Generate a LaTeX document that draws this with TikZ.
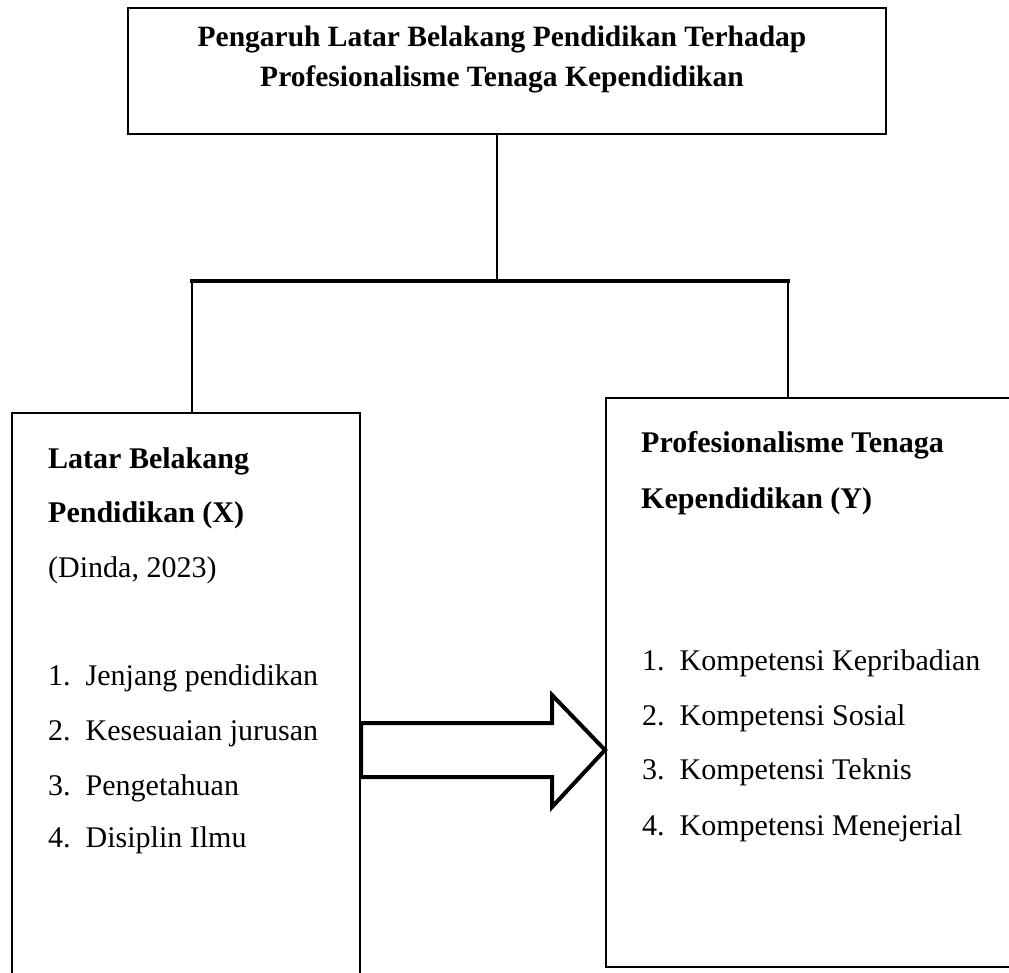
\documentclass[tikz,border=0pt]{standalone}
\usepackage{fontspec}
\setmainfont{Liberation Serif}
\begin{document}
\begin{tikzpicture}[x=1pt,y=-1pt,
  boxstyle/.style={draw=black, line width=2pt, fill=none, inner sep=0pt, anchor=north west},
  conn/.style={line width=2pt},
  busline/.style={line width=4pt},
  bigarrow/.style={draw=black, line width=4pt, line join=miter, fill=white},
  boldtxt/.style={font=\fontsize{30}{36}\selectfont\bfseries, inner sep=0pt},
  titletxt/.style={font=\fontsize{29.5}{36}\selectfont\bfseries, inner sep=0pt, anchor=base},
  plaintxt/.style={font=\fontsize{30}{36}\selectfont, inner sep=0pt, anchor=base west}]
\useasboundingbox (0,0) rectangle (1009,973);
\fill[white] (0,0) rectangle (1009,973);
% boxes
\node[boxstyle, minimum width=758pt, minimum height=126pt] (top) at (127,7) {};
\node[boxstyle, minimum width=348pt, minimum height=600pt] (left) at (11,412) {};
\node[boxstyle, minimum width=430pt, minimum height=569pt] (right) at (605,397) {};
% title
\node[titletxt] (t1) at (502,47) {Pengaruh Latar Belakang Pendidikan Terhadap};
\node[titletxt] (t2) at (502,87) {Profesionalisme Tenaga Kependidikan};
% connectors
\coordinate (jm) at (497,281);
\coordinate (jl) at (192,281);
\coordinate (jr) at (788,281);
\draw[conn] (top.south -| jm) -- (jm);
\draw[conn] (jl) -- (left.north -| jl);
\draw[conn] (jr) -- (right.north -| jr);
\draw[busline, line cap=rect] (jl) -- (jr);
% left texts
\node[boldtxt, anchor=base west] (lx1) at (48,468) {Latar Belakang};
\node[boldtxt, anchor=base west] (lx2) at (48,522) {Pendidikan (X)};
\node[plaintxt] (lx3) at (48,577) {(Dinda, 2023)};
\node[plaintxt] (la) at (48,685) {1.\ \ Jenjang pendidikan};
\node[plaintxt] (lb) at (48,740) {2.\ \ Kesesuaian jurusan};
\node[plaintxt] (lc) at (48,795) {3.\ \ Pengetahuan};
\node[plaintxt] (ld) at (48,847) {4.\ \ Disiplin Ilmu};
% right texts
\node[boldtxt, anchor=base west] (ry1) at (641,452) {Profesionalisme Tenaga};
\node[boldtxt, anchor=base west] (ry2) at (641,508) {Kependidikan (Y)};
\node[plaintxt] (ra) at (642,670) {1.\ \ Kompetensi Kepribadian};
\node[plaintxt] (rb) at (642,725) {2.\ \ Kompetensi Sosial};
\node[plaintxt] (rc) at (642,779) {3.\ \ Kompetensi Teknis};
\node[plaintxt] (rd) at (642,835) {4.\ \ Kompetensi Menejerial};
% big arrow between boxes
\draw[bigarrow] (left.east |- 0,723) -- (552,723) -- (552,695) -- (right.west |- 0,750)
  -- (552,807) -- (552,777) -- (left.east |- 0,777) -- cycle;
\end{tikzpicture}
\end{document}
